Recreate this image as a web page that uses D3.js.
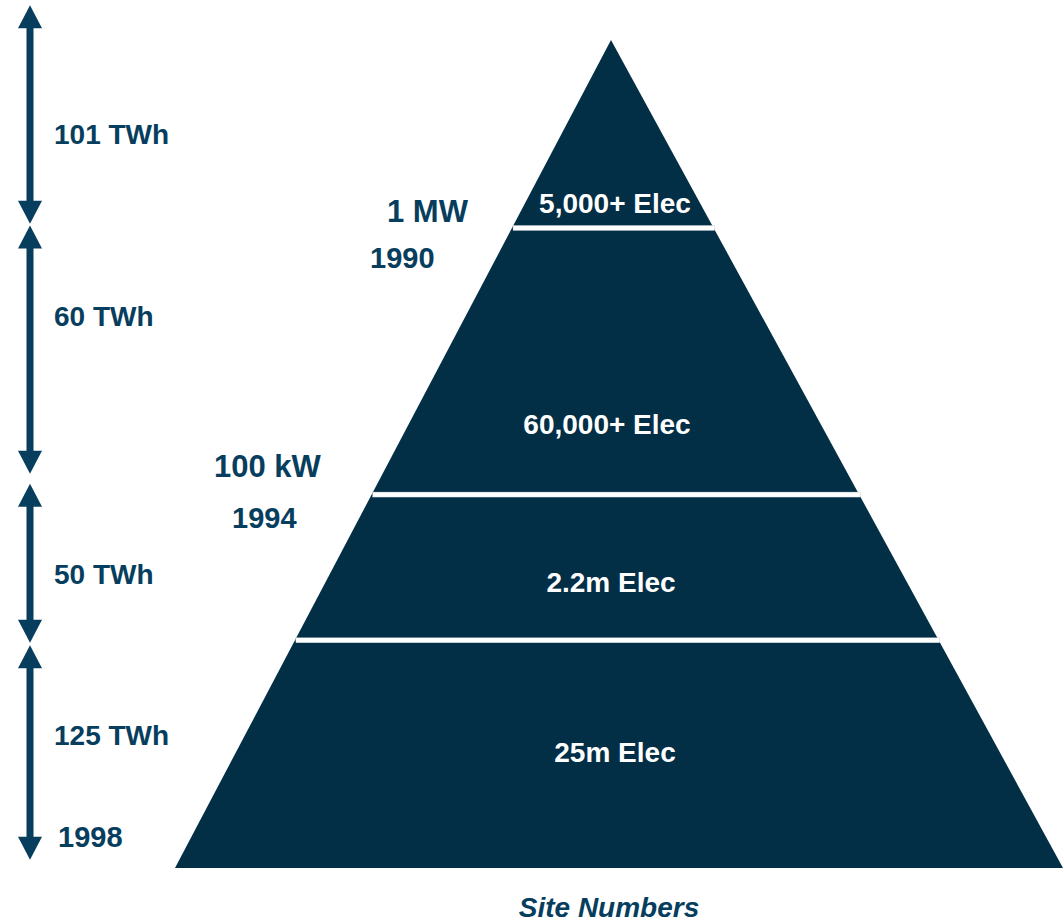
<!DOCTYPE html>
<html>
<head>
<meta charset="utf-8">
<script src="https://cdn.jsdelivr.net/npm/d3@7/dist/d3.min.js"></script>
<style>
  html, body { margin: 0; padding: 0; background: #ffffff; }
  svg { display: block; }
  text { font-family: "Liberation Sans", Arial, sans-serif; font-weight: bold; }
</style>
</head>
<body>
<svg id="chart" width="1063" height="923"></svg>
<script>
// Pyramid tiers, top to bottom
const tierLabels = ["5,000+ Elec", "60,000+ Elec", "2.2m Elec", "25m Elec"];
// Tier boundaries as a share of pyramid depth (0 = apex, 1 = base)
const tierBreaks = [0, 0.227, 0.549, 0.725, 1];

// Energy bands shown by the double-headed arrows on the left
const energyLabels = ["101 TWh", "60 TWh", "50 TWh", "125 TWh"];
const energyStops = [[-0.042, 0.222], [0.224, 0.524], [0.536, 0.728], [0.731, 0.990]];

// Size thresholds and the years they were reached
const sizeLabels = ["1 MW", "100 kW"];
const yearLabels = ["1990", "1994", "1998"];

const axisTitle = "Site Numbers";

const svg = d3.select("#chart");
const fillDark = "#022e46";
const ink = "#073e5e";

// Depth scale maps pyramid depth to page y
const y = d3.scaleLinear().domain([0, 1]).range([40, 868]);
// Left and right pyramid edges as functions of depth
const xLeft = d3.scaleLinear().domain([0, 1]).range([611, 175]);
const xRight = d3.scaleLinear().domain([0, 1]).range([611, 1063]);

// Whole pyramid
svg.append("path")
  .attr("d", d3.line()([[xLeft(0), y(0)], [xRight(1), y(1)], [xLeft(1), y(1)]]) + "Z")
  .attr("fill", fillDark);

// White separators between tiers
const inner = tierBreaks.slice(1, -1);
svg.selectAll("rect.sep").data(inner).join("rect")
  .attr("class", "sep")
  .attr("x", d => xLeft(d) + 1)
  .attr("width", d => xRight(d) - xLeft(d))
  .attr("y", d => y(d) - 2.5)
  .attr("height", 5)
  .attr("fill", "#ffffff")
  .attr("stroke", "#b9c7d0")
  .attr("stroke-width", 0.4);

// Tier labels
const tierLabelDepth = [0.209, 0.476, 0.667, 0.872];
const tierLabelX = [615, 607, 611, 615];
svg.selectAll("text.tier").data(tierLabels).join("text")
  .attr("class", "tier")
  .attr("x", (d, i) => tierLabelX[i])
  .attr("y", (d, i) => y(tierLabelDepth[i]))
  .attr("text-anchor", "middle")
  .attr("font-size", 28)
  .attr("fill", "#ffffff")
  .text(d => d);

// Double-headed arrows
const ax = 30, shaftW = 7, headW = 24, headH = 23;
const arrows = svg.selectAll("g.arrow").data(energyStops).join("g").attr("class", "arrow");
arrows.append("rect")
  .attr("x", ax - shaftW / 2)
  .attr("width", shaftW)
  .attr("y", d => y(d[0]) + headH - 1)
  .attr("height", d => y(d[1]) - y(d[0]) - 2 * headH + 2)
  .attr("fill", ink);
arrows.append("path")
  .attr("d", d => `M${ax},${y(d[0])}L${ax + headW / 2},${y(d[0]) + headH}L${ax - headW / 2},${y(d[0]) + headH}Z`)
  .attr("fill", ink);
arrows.append("path")
  .attr("d", d => `M${ax},${y(d[1])}L${ax + headW / 2},${y(d[1]) - headH}L${ax - headW / 2},${y(d[1]) - headH}Z`)
  .attr("fill", ink);

// Energy labels beside the arrows
const energyBaseline = [144, 326, 584, 745];
svg.selectAll("text.energy").data(energyLabels).join("text")
  .attr("class", "energy")
  .attr("x", 54)
  .attr("y", (d, i) => energyBaseline[i])
  .attr("font-size", 28)
  .attr("fill", ink)
  .text(d => d);

// Size thresholds at the tier breaks
const sizePos = [[387, 222], [214, 477]];
svg.selectAll("text.size").data(sizeLabels).join("text")
  .attr("class", "size")
  .attr("x", (d, i) => sizePos[i][0])
  .attr("y", (d, i) => sizePos[i][1])
  .attr("font-size", 31)
  .attr("fill", ink)
  .text(d => d);

// Years
const yearPos = [[370, 268], [232, 528], [58, 847]];
svg.selectAll("text.year").data(yearLabels).join("text")
  .attr("class", "year")
  .attr("x", (d, i) => yearPos[i][0])
  .attr("y", (d, i) => yearPos[i][1])
  .attr("font-size", 29)
  .attr("fill", ink)
  .text(d => d);

// Axis title below the pyramid
svg.append("text")
  .attr("x", 609)
  .attr("y", 917)
  .attr("text-anchor", "middle")
  .attr("font-size", 28)
  .attr("font-style", "italic")
  .attr("fill", ink)
  .text(axisTitle);
</script>
</body>
</html>
